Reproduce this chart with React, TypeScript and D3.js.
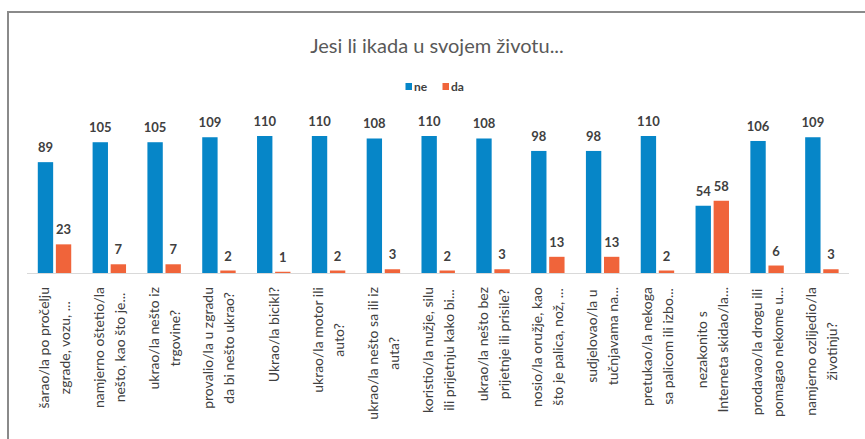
import React from "react";
import * as d3 from "d3";

const categories: string[][] = [
  ["šarao/la po pročelju", "zgrade, vozu, ..."],
  ["namjerno oštetio/la", "nešto, kao što je..."],
  ["ukrao/la nešto iz", "trgovine?"],
  ["provalio/la u zgradu", "da bi nešto ukrao?"],
  ["Ukrao/la bicikl?"],
  ["ukrao/la motor ili", "auto?"],
  ["ukrao/la nešto sa ili iz", "auta?"],
  ["koristio/la nužje, silu", "ili prijetnju kako bi..."],
  ["ukrao/la nešto bez", "prijetnje ili prisile?"],
  ["nosio/la oružje, kao", "što je palica, nož, ..."],
  ["sudjelovao/la u", "tučnjavama na..."],
  ["pretukao/la nekoga", "sa palicom ili izbo..."],
  ["nezakonito s", "Interneta skidao/la..."],
  ["prodavao/la drogu ili", "pomagao nekome u..."],
  ["namjerno ozlijedio/la", "životinju?"],
];
const neValues = [89, 105, 105, 109, 110, 110, 108, 110, 108, 98, 98, 110, 54, 106, 109];
const daValues = [23, 7, 7, 2, 1, 2, 3, 2, 3, 13, 13, 2, 58, 6, 3];
const seriesNames = ["ne", "da"];
const title = "Jesi li ikada u svojem životu...";

const COLORS: Record<string, string> = { ne: "#0686C8", da: "#F0643A" };
const FONT = "Lato, 'Open Sans', sans-serif";
const LABEL_SIZE = 14;

let ctx: CanvasRenderingContext2D | null = null;
function measure(t: string, size: number, weight = "normal") {
  if (!ctx) ctx = document.createElement("canvas").getContext("2d");
  if (!ctx) return t.length * size * 0.5;
  ctx.font = `${weight} ${size}px Lato`;
  return ctx.measureText(t).width;
}

export default function App() {
  const W = 865;
  const H = 439;
  const ids = categories.map((_, i) => String(i));
  const x = d3.scaleBand<string>().domain(ids).range([27.1, 849.3]).paddingInner(0.39).paddingOuter(0.195);
  const xs = d3.scaleBand<string>().domain(seriesNames).range([0, x.bandwidth()]).paddingInner(0.15);
  const y = d3.scaleLinear().domain([0, 110]).range([273, 136]);
  const data: Record<string, number[]> = { ne: neValues, da: daValues };
  const labelTop = 287;
  const lineGap = 21;

  return (
    <svg width={W} height={H} style={{ position: "absolute", left: 0, top: 0, background: "#fff" }}>
      <rect x={0} y={0} width={W} height={H} fill="#fff" />
      <rect x={8} y={12} width={900} height={500} fill="none" stroke="#8a8a8a" strokeWidth={2} />
      <text x={437} y={53} textAnchor="middle" fontFamily={FONT} fontSize={20} fill="#595959">
        {title}
      </text>
      <g fontFamily={FONT} fontSize={12} fill="#404040" fontWeight="bold">
        <rect x={405.5} y={83} width={6.5} height={7} fill={COLORS.ne} />
        <text x={414} y={90.5}>ne</text>
        <rect x={442.5} y={83} width={6.5} height={7} fill={COLORS.da} />
        <text x={451} y={90.5}>da</text>
      </g>
      {ids.map((id, i) => (
        <g key={id} transform={`translate(${x(id)},0)`}>
          {seriesNames.map((s) => {
            const v = data[s][i];
            const bx = xs(s)!;
            return (
              <g key={s}>
                <rect x={bx} y={y(v)} width={xs.bandwidth()} height={y(0) - y(v)} fill={COLORS[s]} />
                <text
                  x={bx + xs.bandwidth() / 2}
                  y={y(v) - 10}
                  textAnchor="middle"
                  fontFamily={FONT}
                  fontSize={13}
                  fontWeight="bold"
                  fill="#404040"
                >
                  {v}
                </text>
              </g>
            );
          })}
        </g>
      ))}
      <line x1={27} x2={849} y1={y(0) + 0.5} y2={y(0) + 0.5} stroke="#d9d9d9" strokeWidth={1} />
      {categories.map((lines, i) => {
        const cx = x(String(i))! + x.bandwidth() / 2;
        const maxW = Math.max(...lines.map((l) => measure(l, LABEL_SIZE)));
        const cy = labelTop + maxW / 2;
        const n = lines.length;
        return (
          <g key={i}>
            {lines.map((l, j) => {
              const lx = cx + (j - (n - 1) / 2) * lineGap + 5;
              return (
                <text
                  key={j}
                  transform={`translate(${lx},${cy}) rotate(-90)`}
                  textAnchor="middle"
                  fontFamily={FONT}
                  fontSize={LABEL_SIZE}
                  fill="#404040"
                >
                  {l}
                </text>
              );
            })}
          </g>
        );
      })}
    </svg>
  );
}
